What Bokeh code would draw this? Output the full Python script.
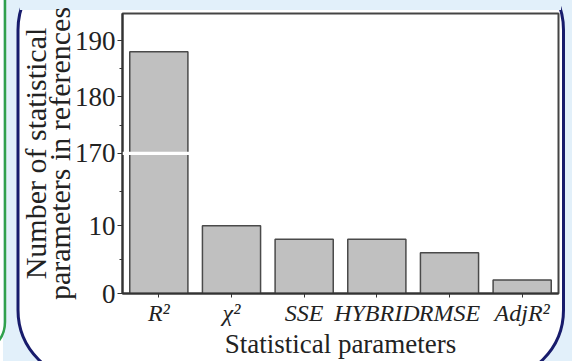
from bokeh.plotting import figure
from bokeh.models import Range1d, FactorRange, FixedTicker, BoxAnnotation, LinearAxis
from bokeh.embed import file_html
from bokeh.resources import INLINE

# ---- data ----
categories = ["R²", "χ²", "SSE", "HYBRID", "RMSE", "AdjR²"]
counts = [188, 10, 8, 8, 6, 2]
low_ticks = [0, 10]
low_minor = [5, 15]
up_ticks = [170, 180, 190]
up_minor = [175, 185]
BREAK = 170
y_title_lines = ["Number of statistical", "parameters in references"]
x_title = "Statistical parameters"

# ---- broken axis ranges ----
LOW_END = 41.3
UP_START, UP_END = 145.1, 194.8


def to_low(v):
    return round((v - UP_START) / (UP_END - UP_START) * LOW_END, 4)


FONT = "Liberation Serif"
W, H = 572, 361

# decorative panel frame of the screenshot (page background only)
svg = ("<svg xmlns='http://www.w3.org/2000/svg' width='572' height='361'>"
       "<rect width='572' height='361' fill='%23e2f0fa'/>"
       "<rect x='0' y='0' width='3' height='361' fill='white'/>"
       "<path d='M5 -5 V322 Q5 340 -12 350' fill='none' stroke='%2330a04c' stroke-width='2.5'/>"
       "<rect x='18' y='-40' width='545.5' height='420' rx='70' fill='white' "
       "stroke='%23181c6c' stroke-width='3'/>"
       "<rect x='20' y='0' width='541' height='10' fill='%23e2f0fa'/>"
       "</svg>")

p = figure(width=W, height=H, x_range=FactorRange(*categories),
           y_range=Range1d(0, LOW_END), output_backend="svg",
           toolbar_location=None, min_border_left=122, min_border_right=14,
           min_border_top=13, min_border_bottom=67)
p.styles = {"background-image": f'url("data:image/svg+xml;utf8,{svg}")',
            "background-repeat": "no-repeat"}
p.extra_y_ranges = {"upper": Range1d(UP_START, UP_END)}

small_x = [c for c, v in zip(categories, counts) if v < BREAK]
small_v = [v for v in counts if v < BREAK]
big_x = [c for c, v in zip(categories, counts) if v >= BREAK]
big_v = [v for v in counts if v >= BREAK]

bar_kw = dict(width=0.8, fill_color="#c0c0c0", line_color="#4a4a4a", line_width=1.5)
p.vbar(x=small_x, top=small_v, bottom=0, **bar_kw)
p.vbar(x=big_x, top=big_v, bottom=0, y_range_name="upper", **bar_kw)

p.xgrid.visible = False
p.ygrid.visible = False
p.outline_line_color = "#444444"
p.outline_line_width = 2
p.background_fill_color = "white"
p.border_fill_color = None

# y axis (ticks + second title line)
yax = p.yaxis[0]
yax.ticker = FixedTicker(ticks=low_ticks + [to_low(v) for v in up_ticks],
                         minor_ticks=low_minor + [to_low(v) for v in up_minor])
yax.major_label_overrides = {to_low(v): str(v) for v in up_ticks}
yax.axis_line_color = "#333333"
yax.axis_line_width = 2
yax.major_tick_out = 5
yax.major_tick_in = 0
yax.minor_tick_out = 3
yax.minor_tick_in = 0
yax.major_tick_line_color = "#333333"
yax.minor_tick_line_color = "#333333"
yax.major_label_standoff = 2
yax.major_label_text_font = FONT
yax.major_label_text_font_size = "27px"
yax.major_label_text_color = "#222222"
yax.axis_label = y_title_lines[1]
yax.axis_label_text_font = FONT
yax.axis_label_text_font_size = "30px"
yax.axis_label_text_font_style = "normal"
yax.axis_label_text_color = "#222222"
yax.axis_label_standoff = -4

# outer blank axis carrying the first title line
yax2 = LinearAxis(ticker=FixedTicker(ticks=[]), axis_line_color=None,
                  major_tick_line_color=None, minor_tick_line_color=None,
                  major_tick_out=0, minor_tick_out=0, major_label_standoff=0,
                  axis_label=y_title_lines[0], axis_label_text_font=FONT,
                  axis_label_text_font_size="30px", axis_label_text_font_style="normal",
                  axis_label_text_color="#222222", axis_label_standoff=-12)
p.add_layout(yax2, "left")

# x axis
xax = p.xaxis[0]
xax.axis_line_color = "#333333"
xax.axis_line_width = 2
xax.major_tick_out = 4
xax.major_tick_in = 0
xax.major_tick_line_color = "#333333"
xax.major_label_standoff = 2
xax.major_label_text_font = FONT
xax.major_label_text_font_size = "24px"
xax.major_label_text_font_style = "italic"
xax.major_label_text_color = "#222222"
xax.axis_label = x_title
xax.axis_label_text_font = FONT
xax.axis_label_text_font_size = "27px"
xax.axis_label_text_font_style = "normal"
xax.axis_label_text_color = "#222222"
xax.axis_label_standoff = 0

# axis break mark
p.add_layout(BoxAnnotation(bottom=to_low(BREAK) - 0.28, top=to_low(BREAK) + 0.2,
                           left=None, right=0.97, fill_color="white", fill_alpha=1,
                           line_color=None))

open("out.html", "w").write(file_html(p, INLINE))
